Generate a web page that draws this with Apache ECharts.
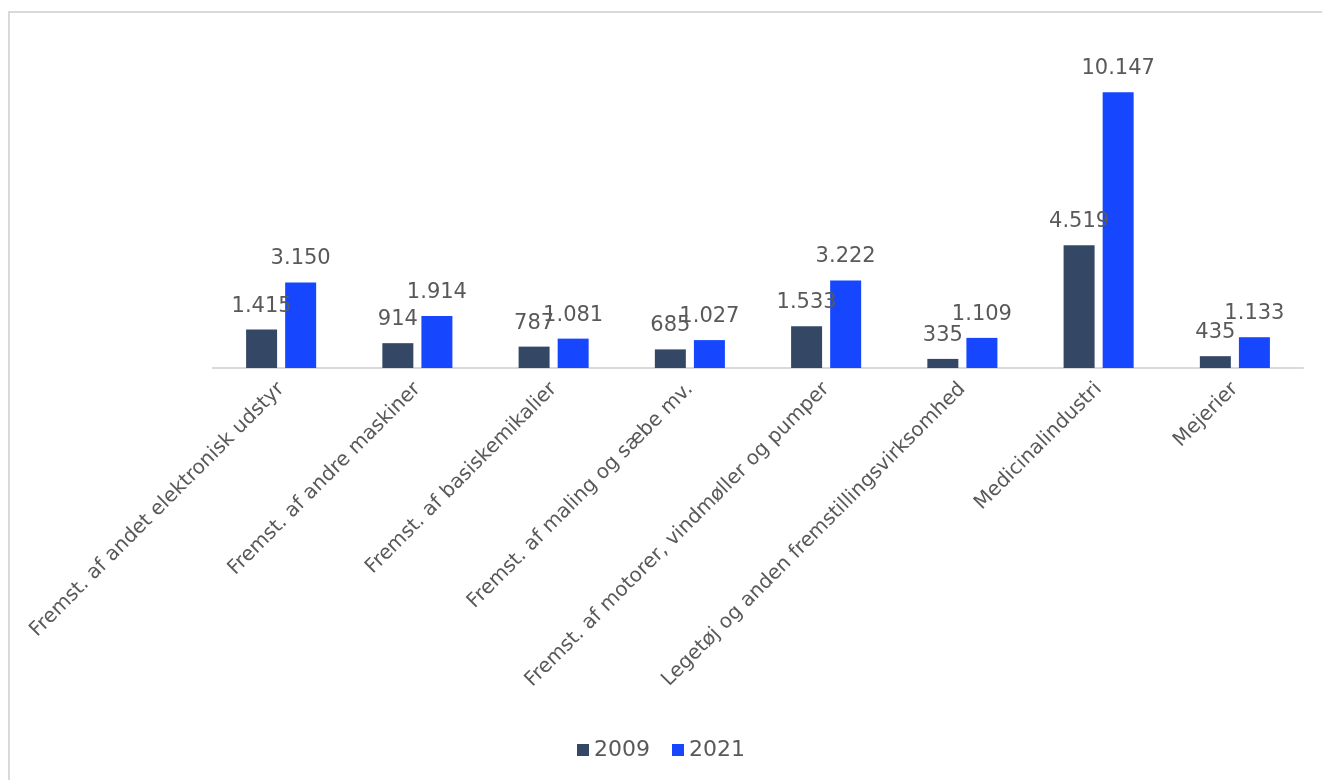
<!DOCTYPE html>
<html><head><meta charset="utf-8">
<script src="https://cdn.jsdelivr.net/npm/echarts@6/dist/echarts.min.js"></script>
<style>
html,body{margin:0;padding:0;background:#fff;}
#frame{position:absolute;left:8px;top:11px;width:1330px;height:790px;border:2px solid #d9d9d9;box-sizing:border-box;}
#c{position:absolute;left:0;top:0;width:1322px;height:780px;}
</style></head>
<body>
<div id="frame"></div>
<div id="c"></div>
<script>
const categories = ["Fremst. af andet elektronisk udstyr","Fremst. af andre maskiner","Fremst. af basiskemikalier","Fremst. af maling og sæbe mv.","Fremst. af motorer, vindmøller og pumper","Legetøj og anden fremstillingsvirksomhed","Medicinalindustri","Mejerier"];
const seriesNames = ["2009","2021"];
const values2009 = [1415,914,787,685,1533,335,4519,435];
const values2021 = [3150,1914,1081,1027,3222,1109,10147,1133];

const fmt = v => v.toLocaleString('da-DK');
const font = "'DejaVu Sans', sans-serif";
const chart = echarts.init(document.getElementById('c'));
const lbl = {show:true, position:'top', distance:13, color:'#595959', fontSize:21, fontFamily:font, formatter:p=>fmt(p.value)};
chart.setOption({
  animation:false,
  grid:{left:213, right:19, top:42, bottom:412},
  legend:{bottom:14, left:'center', itemWidth:12, itemHeight:12, itemGap:22,
    textStyle:{color:'#595959', fontSize:22, fontFamily:font}, icon:'rect', data:seriesNames},
  xAxis:{type:'category', data:categories,
    axisLine:{lineStyle:{color:'#d9d9d9', width:2}}, axisTick:{show:false},
    axisLabel:{rotate:45, interval:0, color:'#595959', fontSize:20, fontFamily:font, margin:18}},
  yAxis:{type:'value', min:0, max:12000, show:false, splitLine:{show:false}},
  series:[
    {name:seriesNames[0], type:'bar', data:values2009, barWidth:31, barGap:'26%', itemStyle:{color:'#344866'}, label:lbl},
    {name:seriesNames[1], type:'bar', data:values2021, barWidth:31, itemStyle:{color:'#1746ff'}, label:lbl}
  ]
});
</script>
</body></html>
